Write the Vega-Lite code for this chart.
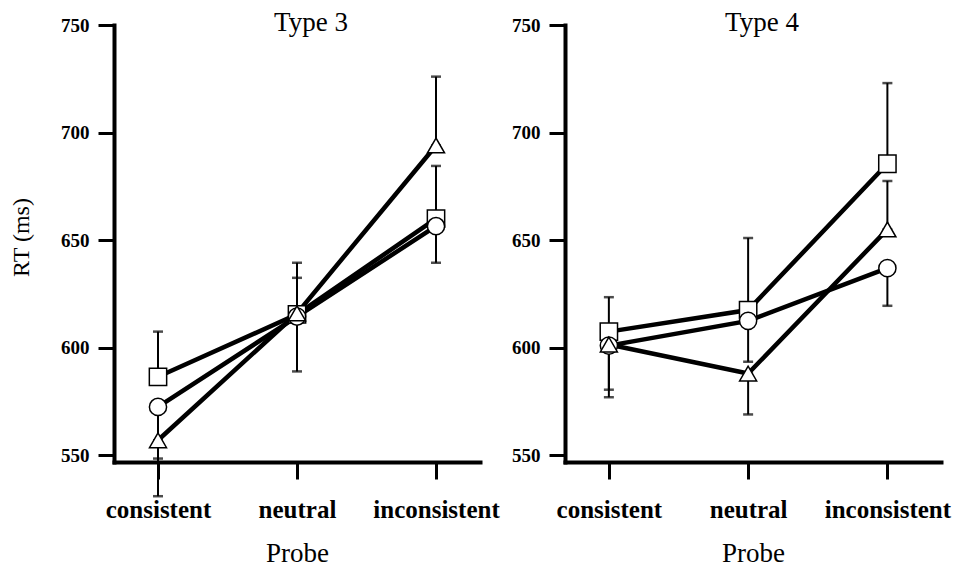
{
  "$schema": "https://vega.github.io/schema/vega-lite/v6.json",
  "background": "white",
  "padding": {"left": 9, "top": 9, "right": 5, "bottom": 0},
  "data": {
    "values": [
      {"type": "Type 3", "probe": "consistent", "group": "square", "rt": 586.5, "lo": 586.5, "hi": 607.5},
      {"type": "Type 3", "probe": "consistent", "group": "circle", "rt": 572.5, "lo": 548.5, "hi": 572.5},
      {"type": "Type 3", "probe": "consistent", "group": "triangle", "rt": 557, "lo": 531, "hi": 557},
      {"type": "Type 3", "probe": "neutral", "group": "square", "rt": 615.5, "lo": 615.5, "hi": 639.5},
      {"type": "Type 3", "probe": "neutral", "group": "circle", "rt": 614.5, "lo": 589, "hi": 614.5},
      {"type": "Type 3", "probe": "neutral", "group": "triangle", "rt": 616, "lo": 616, "hi": 632.5},
      {"type": "Type 3", "probe": "inconsistent", "group": "square", "rt": 660, "lo": 660, "hi": 684.5},
      {"type": "Type 3", "probe": "inconsistent", "group": "circle", "rt": 656.5, "lo": 639.5, "hi": 656.5},
      {"type": "Type 3", "probe": "inconsistent", "group": "triangle", "rt": 694, "lo": 694, "hi": 726},
      {"type": "Type 4", "probe": "consistent", "group": "square", "rt": 607.5, "lo": 607.5, "hi": 623.5},
      {"type": "Type 4", "probe": "consistent", "group": "circle", "rt": 601, "lo": 577, "hi": 601},
      {"type": "Type 4", "probe": "consistent", "group": "triangle", "rt": 601.5, "lo": 580.5, "hi": 601.5},
      {"type": "Type 4", "probe": "neutral", "group": "square", "rt": 617.5, "lo": 617.5, "hi": 651},
      {"type": "Type 4", "probe": "neutral", "group": "circle", "rt": 612.5, "lo": 593.5, "hi": 612.5},
      {"type": "Type 4", "probe": "neutral", "group": "triangle", "rt": 588, "lo": 569, "hi": 588},
      {"type": "Type 4", "probe": "inconsistent", "group": "square", "rt": 685.5, "lo": 685.5, "hi": 723},
      {"type": "Type 4", "probe": "inconsistent", "group": "circle", "rt": 637, "lo": 619.5, "hi": 637},
      {"type": "Type 4", "probe": "inconsistent", "group": "triangle", "rt": 655, "lo": 655, "hi": 677.5}
    ]
  },
  "spacing": 85,
  "bounds": "flush",
  "hconcat": [
    {
      "width": 366,
      "height": 437,
      "title": {"text": "Type 3", "dx": 14, "offset": -21},
      "transform": [{"filter": "datum.type === 'Type 3'"}],
      "encoding": {
        "x": {"field": "probe", "type": "ordinal", "sort": ["consistent", "neutral", "inconsistent"],
              "scale": {"type": "point", "padding": 0.3165}, "axis": {"title": "Probe"}}
      },
      "layer": [
        {"mark": {"type": "rule", "strokeWidth": 2, "color": "black"},
         "encoding": {"y": {"field": "lo", "type": "quantitative", "scale": {"domain": [546.9, 750], "nice": false, "zero": false}, "axis": {"title": "RT (ms)", "titleY": 212, "values": [550, 600, 650, 700, 750]}}, "y2": {"field": "hi"}}},
        {"mark": {"type": "tick", "size": 10, "thickness": 2.5, "color": "black"},
         "encoding": {"y": {"field": "lo", "type": "quantitative", "axis": {"title": "RT (ms)", "titleY": 212, "values": [550, 600, 650, 700, 750]}}}},
        {"mark": {"type": "tick", "size": 10, "thickness": 2.5, "color": "black"},
         "encoding": {"y": {"field": "hi", "type": "quantitative", "axis": {"title": "RT (ms)", "titleY": 212, "values": [550, 600, 650, 700, 750]}}}},
        {"mark": {"type": "line", "strokeWidth": 4.5, "color": "black"},
         "encoding": {"y": {"field": "rt", "type": "quantitative", "axis": {"title": "RT (ms)", "titleY": 212, "values": [550, 600, 650, 700, 750]}}, "detail": {"field": "group"}}},
        {"mark": {"type": "point", "filled": true, "fill": "white", "stroke": "black", "strokeWidth": 1.5, "opacity": 1},
         "encoding": {
           "y": {"field": "rt", "type": "quantitative", "axis": {"title": "RT (ms)", "titleY": 212, "values": [550, 600, 650, 700, 750]}},
           "shape": {"field": "group", "type": "nominal", "scale": {"domain": ["square", "circle", "triangle"], "range": ["square", "circle", "triangle-up"]}, "legend": null},
           "size": {"field": "group", "type": "nominal", "scale": {"domain": ["square", "circle", "triangle"], "range": [300, 290, 420]}, "legend": null}
         }}
      ]
    },
    {
      "width": 376,
      "height": 437,
      "title": {"text": "Type 4", "dx": 9, "offset": -21},
      "transform": [{"filter": "datum.type === 'Type 4'"}],
      "encoding": {
        "x": {"field": "probe", "type": "ordinal", "sort": ["consistent", "neutral", "inconsistent"],
              "scale": {"type": "point", "padding": 0.35, "align": 0.45}, "axis": {"title": "Probe"}}
      },
      "layer": [
        {"mark": {"type": "rule", "strokeWidth": 2, "color": "black"},
         "encoding": {"y": {"field": "lo", "type": "quantitative", "scale": {"domain": [546.9, 750], "nice": false, "zero": false}, "axis": {"title": null, "values": [550, 600, 650, 700, 750]}}, "y2": {"field": "hi"}}},
        {"mark": {"type": "tick", "size": 10, "thickness": 2.5, "color": "black"},
         "encoding": {"y": {"field": "lo", "type": "quantitative", "axis": {"title": null, "values": [550, 600, 650, 700, 750]}}}},
        {"mark": {"type": "tick", "size": 10, "thickness": 2.5, "color": "black"},
         "encoding": {"y": {"field": "hi", "type": "quantitative", "axis": {"title": null, "values": [550, 600, 650, 700, 750]}}}},
        {"mark": {"type": "line", "strokeWidth": 4.5, "color": "black"},
         "encoding": {"y": {"field": "rt", "type": "quantitative", "axis": {"title": null, "values": [550, 600, 650, 700, 750]}}, "detail": {"field": "group"}}},
        {"mark": {"type": "point", "filled": true, "fill": "white", "stroke": "black", "strokeWidth": 1.5, "opacity": 1},
         "encoding": {
           "y": {"field": "rt", "type": "quantitative", "axis": {"title": null, "values": [550, 600, 650, 700, 750]}},
           "shape": {"field": "group", "type": "nominal", "scale": {"domain": ["square", "circle", "triangle"], "range": ["square", "circle", "triangle-up"]}, "legend": null},
           "size": {"field": "group", "type": "nominal", "scale": {"domain": ["square", "circle", "triangle"], "range": [300, 290, 420]}, "legend": null}
         }}
      ]
    }
  ],
  "config": {
    "view": {"stroke": null},
    "title": {"font": "Liberation Serif", "fontSize": 27, "fontWeight": "normal", "color": "black", "anchor": "middle"},
    "axis": {
      "grid": false,
      "domainColor": "black",
      "domainWidth": 4,
      "domainCap": "square",
      "tickColor": "black",
      "tickWidth": 3,
      "labelColor": "black",
      "titleColor": "black",
      "labelFont": "Liberation Serif",
      "labelFontWeight": "bold",
      "titleFont": "Liberation Serif",
      "titleFontWeight": "normal"
    },
    "axisX": {"tickSize": 17, "labelPadding": 18, "labelFontSize": 25, "labelAngle": 0, "titleFontSize": 27, "titlePadding": 18},
    "axisY": {"tickSize": 16, "labelPadding": 9, "labelFontSize": 19, "titleFontSize": 24, "titlePadding": 27}
  }
}
